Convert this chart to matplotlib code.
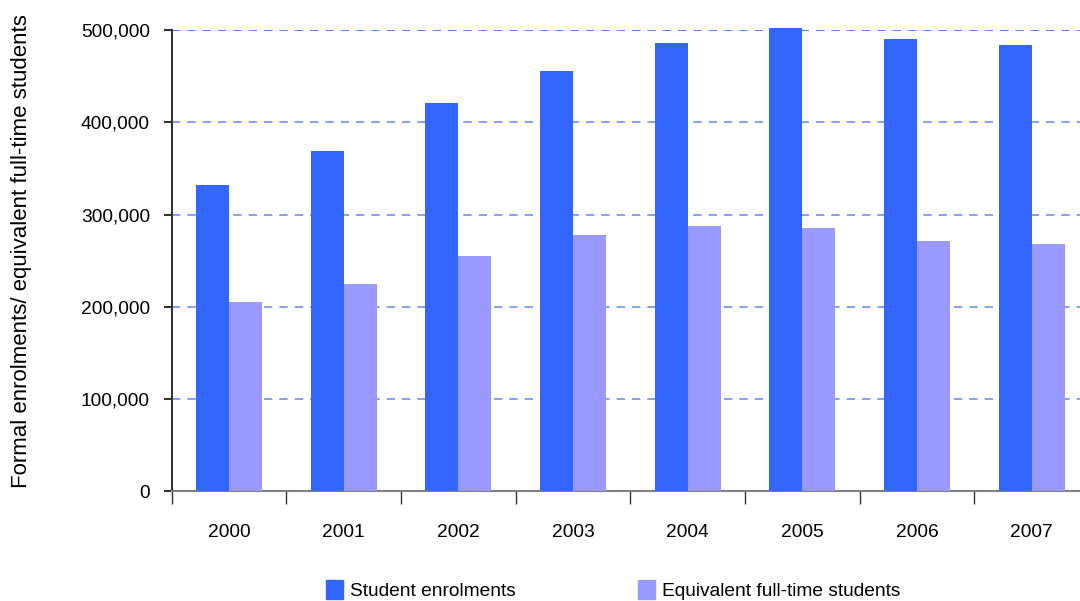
import numpy as np
import matplotlib
matplotlib.use('Agg')
import matplotlib.pyplot as plt
from matplotlib.patches import Patch
from matplotlib.ticker import FuncFormatter

plt.rcParams['font.family'] = ['Liberation Sans', 'DejaVu Sans']

# data
years = ['2000', '2001', '2002', '2003', '2004', '2005', '2006', '2007']
enrolments = [332000, 369000, 421000, 456000, 486000, 502500, 490500, 484000]
full_time = [205000, 224500, 255000, 278000, 287500, 285500, 271000, 268000]

blue = '#3366ff'
purple = '#9999ff'
fs = 13.8

fig = plt.figure(figsize=(10.8, 6.01), dpi=100)
# axes runs a bit past the right edge, like the original
ax = fig.add_axes([171.5 / 1080, 110 / 601, (1089 - 171.5) / 1080, (491 - 30.3) / 601])

x = np.arange(len(years))
w = 0.288
ax.bar(x - w / 2, enrolments, w, color=blue, zorder=3, clip_on=False)
ax.bar(x + w / 2, full_time, w, color=purple, zorder=3, clip_on=False)

ax.set_xlim(-0.5, len(years) - 0.5)
ax.set_ylim(0, 500000)

ax.set_yticks(np.arange(0, 500001, 100000))
ax.yaxis.set_major_formatter(FuncFormatter(lambda v, p: '{:,.0f}'.format(v)))
for yv in range(100000, 500001, 100000):
    gc = blue if yv == 500000 else '#6f8ff5'
    ax.axhline(yv, color=gc, lw=1.2, dashes=(5, 4.2), zorder=1)

# category boundary ticks, labels in the middle
ax.set_xticks(np.arange(-0.5, len(years) - 0.5, 1.0))
ax.set_xticklabels([])
ax.set_xticks(x, minor=True)
ax.set_xticklabels(years, minor=True)
ax.tick_params(axis='x', which='major', length=9, width=1, color='#333333', direction='out')
ax.tick_params(axis='x', which='minor', length=0, pad=24, labelsize=fs)
ax.tick_params(axis='y', length=6, width=1.5, color='#333333', pad=9.5, labelsize=fs)

for s in ['top', 'right']:
    ax.spines[s].set_visible(False)
ax.spines['left'].set_color('#333333')
ax.spines['left'].set_linewidth(1.5)
ax.spines['bottom'].set_color('#808080')
ax.spines['bottom'].set_linewidth(1.5)

fig.text(22 / 1080, 1 - 251 / 601, 'Formal enrolments/ equivalent full-time students',
         rotation=90, ha='center', va='center', fontsize=16)

handles = [Patch(color=blue, label='Student enrolments'),
           Patch(color=purple, label='Equivalent full-time students')]
fig.legend(handles=handles, loc='center', bbox_to_anchor=(0.5675, 1 - 590 / 601), ncol=2,
           frameon=False, fontsize=fs, handlelength=0.9, handleheight=1.1,
           handletextpad=0.35, columnspacing=6.4)

fig.savefig('out.png', dpi=100)
